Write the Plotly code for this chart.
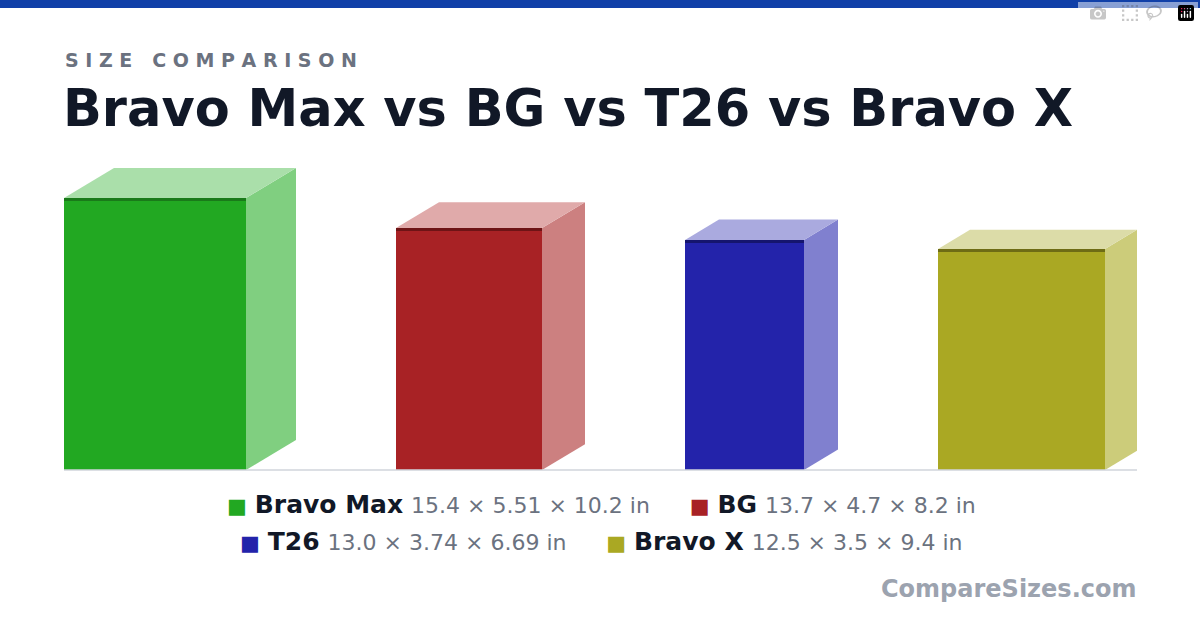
import plotly.graph_objects as go

names = ["Bravo Max", "BG", "T26", "Bravo X"]
dims = ["15.4 × 5.51 × 10.2 in", "13.7 × 4.7 × 8.2 in", "13.0 × 3.74 × 6.69 in", "12.5 × 3.5 × 9.4 in"]
# drawn box sizes (chart units)
box_w = [182, 146, 119, 167]
box_h = [272, 242, 230, 221]
box_d = [50, 43, 34, 32]
front = ["#22a822", "#a82225", "#2323aa", "#aaa823"]
side = ["#80cf80", "#cc8080", "#8080cf", "#cccc7a"]
top = ["#aadfaa", "#e0aaaa", "#aaaadf", "#dcdca8"]
edge = ["#1a7a1a", "#6e1416", "#15156e", "#6e6c15"]

GAP = 100
W, H = 1200, 630
L, R, T, B = 64, 1137, 160, 470

fig = go.Figure()
fig.add_trace(go.Scatter(x=[0], y=[0], mode="markers", marker=dict(opacity=0), hoverinfo="skip"))

shapes = []
x = 0
for i in range(len(names)):
    w, h, d = box_w[i], box_h[i], box_d[i]
    rise = d * 0.6
    shapes.append(dict(type="path", xref="x", yref="y", line=dict(width=0), fillcolor=side[i],
                       path=f"M{x+w},0 L{x+w+d},{rise} L{x+w+d},{h+rise} L{x+w},{h} Z"))
    shapes.append(dict(type="path", xref="x", yref="y", line=dict(width=0), fillcolor=top[i],
                       path=f"M{x},{h} L{x+d},{h+rise} L{x+w+d},{h+rise} L{x+w},{h} Z"))
    shapes.append(dict(type="rect", xref="x", yref="y", x0=x, x1=x + w, y0=0, y1=h,
                       line=dict(width=0), fillcolor=front[i]))
    shapes.append(dict(type="line", xref="x", yref="y", x0=x, x1=x + w, y0=h - 1.5, y1=h - 1.5,
                       line=dict(width=3, color=edge[i])))
    x += w + d + GAP

shapes.append(dict(type="line", xref="paper", yref="paper", x0=0, x1=1, y0=0, y1=0,
                   line=dict(width=1.5, color="#d1d5db")))
shapes.append(dict(type="rect", xref="paper", yref="paper", x0=-L / (R - L), x1=(W - L) / (R - L),
                   y0=(B - 0) / (B - T), y1=(B - 8) / (B - T), line=dict(width=0), fillcolor="#1040a8"))


def item(i):
    return (f"<span style='color:{front[i]};font-size:21px'>■</span> <b>{names[i]}</b> "
            f"<span style='font-size:22px;color:#6b7280'>{dims[i]}</span>")


def py(y):
    return (B - y) / (B - T)


def px(x):
    return (x - L) / (R - L)


ann = [
    dict(text="<b>S I Z E   C O M P A R I S O N</b>", x=px(63), y=py(60), xanchor="left", yanchor="middle",
         font=dict(size=19, color="#6b7280", family="DejaVu Sans"), showarrow=False),
    dict(text="<b>Bravo Max vs BG vs T26 vs Bravo X</b>", x=px(61), y=py(108), xanchor="left", yanchor="middle",
         font=dict(size=51, color="#111827", family="DejaVu Sans"), showarrow=False),
    dict(text=item(0) + "     " + item(1), x=px(601), y=py(505), xanchor="center", yanchor="middle",
         font=dict(size=25, color="#111827", family="DejaVu Sans"), showarrow=False),
    dict(text=item(2) + "     " + item(3), x=px(601), y=py(541), xanchor="center", yanchor="middle",
         font=dict(size=25, color="#111827", family="DejaVu Sans"), showarrow=False),
    dict(text="<b>CompareSizes.com</b>", x=px(1138), y=py(589), xanchor="right", yanchor="middle",
         font=dict(size=24, color="#9ca3af", family="DejaVu Sans"), showarrow=False),
]
for a in ann:
    a.update(xref="paper", yref="paper")

fig.update_layout(
    width=W, height=H, margin=dict(l=L, r=W - R, t=T, b=H - B, pad=0),
    paper_bgcolor="white", plot_bgcolor="white", showlegend=False,
    xaxis=dict(range=[0, R - L], visible=False, fixedrange=True),
    yaxis=dict(range=[0, B - T], visible=False, fixedrange=True),
    shapes=shapes, annotations=ann,
)
fig.write_html("out.html", post_script="document.body.style.margin='0';")
